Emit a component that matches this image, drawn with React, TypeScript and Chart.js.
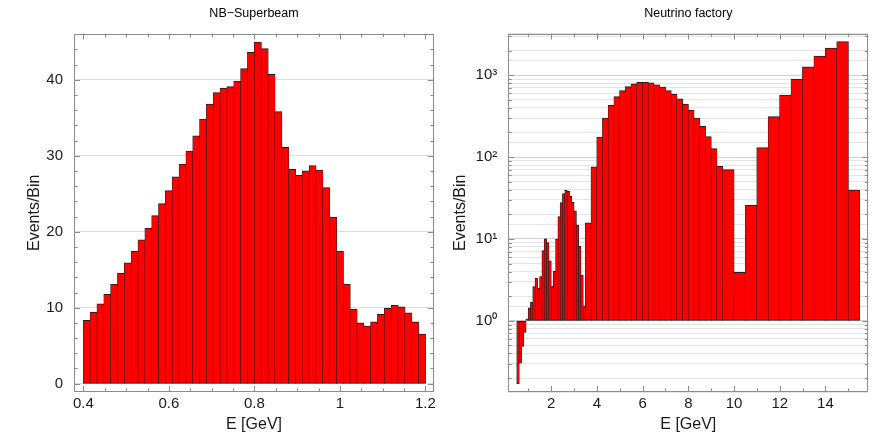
import React, { useEffect, useRef } from 'react';
import { Chart, registerables } from 'chart.js';

Chart.register(...registerables);

// ---------- NB-Superbeam (left panel) ----------
const nbBinLow = 0.4;
const nbBinWidth = 0.016;
const nbEvents = [
  8.3, 9.4, 10.5, 11.75, 13.1, 14.5, 15.9, 17.4, 18.9, 20.45,
  22.1, 23.7, 25.4, 27.2, 28.9, 30.6, 32.6, 34.8, 36.8, 38.3,
  38.9, 39.1, 39.8, 41.45, 43.6, 44.95, 44.1, 40.7, 35.8, 31.1,
  28.2, 27.4, 28.0, 28.7, 28.1, 25.8, 21.9, 17.4, 13.1, 9.8,
  8.0, 7.55, 8.1, 9.1, 9.9, 10.3, 10.1, 9.3, 8.1, 6.5,
];
const nbXTicks = [0.4, 0.6, 0.8, 1.0, 1.2];
const nbYTicks = [0, 10, 20, 30, 40];

// ---------- Neutrino factory (right panel) ----------
const nfFineLow = 0.5;
const nfFineWidth = 0.1;
const nfFineEvents = [
  0.171, 0.305, 0.49, 0.725, 1.05, 1.43, 1.69, 2.6, 3.32, 2.5,
  3.45, 7.2, 10.0, 9.0, 5.4, 2.65, 4.0, 9.9, 18.7, 27.8,
  35.8, 39.5, 38.0, 33.0, 28.0, 22.0, 14.7, 8.1, 3.57, 1.52,
];
const nfMidLow = 3.5;
const nfMidWidth = 0.25;
const nfMidEvents = [
  15.7, 76, 175, 299, 426, 545, 645, 726, 783, 815,
  821, 805, 762, 713, 648, 586, 513, 442, 374, 299,
  236, 177, 127, 77,
];
const nfCoarseLow = 9.5;
const nfCoarseWidth = 0.5;
const nfCoarseEvents = [70, 3.9, 25.6, 130, 312, 570, 893, 1262, 1706, 2137, 2570, 39.4];
const nfXTicks = [2, 4, 6, 8, 10, 12, 14];
const nfYTicks = [1, 10, 100, 1000];

const FONT = "'Liberation Sans', Arial, Helvetica, sans-serif";
Chart.defaults.font.family = FONT;
Chart.defaults.color = '#1a1a1a';

const BAR_FILL = '#ff0000';
const BAR_EDGE = '#1e1e1e';
const FRAME = '#8c8c8c';

const bins = (vals: number[], low: number, w: number) =>
  vals.map((y, i) => ({ x: low + (i + 0.5) * w, y }));

const supers: Record<string, string> = { '0': '⁰', '1': '¹', '2': '²', '3': '³', '4': '⁴', '-': '⁻' };
const pow10Label = (v: number) => {
  const l = Math.log10(v);
  if (Math.abs(l - Math.round(l)) > 1e-9) return '';
  return '10' + String(Math.round(l)).split('').map((c) => supers[c] || c).join('');
};
const isPow10 = (v: number) => v > 0 && Math.abs(Math.log10(v) - Math.round(Math.log10(v))) < 1e-9;

// frame + inward tick marks, drawn through the scales
const framePlugin = {
  id: 'frameTicks',
  afterDatasetsDraw(chart: any, _args: any, opts: any) {
    const { ctx, chartArea: a } = chart;
    const xs = chart.scales.x;
    const ys = chart.scales.y;
    const MAJ = 6;
    const MIN = 3.5;
    ctx.save();
    ctx.strokeStyle = FRAME;
    ctx.lineWidth = 1;
    ctx.beginPath();
    const addX = (v: number, len: number) => {
      const p = Math.round(xs.getPixelForValue(v)) + 0.5;
      ctx.moveTo(p, a.bottom);
      ctx.lineTo(p, a.bottom - len);
      ctx.moveTo(p, a.top);
      ctx.lineTo(p, a.top + len);
    };
    const addY = (v: number, len: number) => {
      const p = Math.round(ys.getPixelForValue(v)) + 0.5;
      ctx.moveTo(a.left, p);
      ctx.lineTo(a.left + len, p);
      ctx.moveTo(a.right, p);
      ctx.lineTo(a.right - len, p);
    };
    const linear = (scale: any, minor: number, major: number, add: (v: number, l: number) => void) => {
      const start = Math.ceil(scale.min / minor - 1e-9);
      for (let i = start; i * minor <= scale.max + 1e-9; i++) {
        const v = i * minor;
        const r = v / major;
        add(v, Math.abs(r - Math.round(r)) < 1e-6 ? MAJ : MIN);
      }
    };
    linear(xs, opts.xMinor, opts.xMajor, addX);
    if (ys.type === 'logarithmic') {
      const d0 = Math.floor(Math.log10(ys.min));
      const d1 = Math.ceil(Math.log10(ys.max));
      for (let d = d0; d <= d1; d++) {
        for (let m = 1; m <= 9; m++) {
          const v = m * Math.pow(10, d);
          if (v >= ys.min && v <= ys.max) addY(v, m === 1 ? MAJ : MIN);
        }
      }
    } else {
      linear(ys, opts.yMinor, opts.yMajor, addY);
    }
    ctx.stroke();
    ctx.strokeRect(Math.round(a.left) + 0.5, Math.round(a.top) + 0.5,
      Math.round(a.right) - Math.round(a.left) - 1, Math.round(a.bottom) - Math.round(a.top) - 1);
    ctx.restore();
  },
};

const barStyle = {
  backgroundColor: BAR_FILL,
  borderColor: BAR_EDGE,
  borderWidth: { top: 1, bottom: 1, left: 0.6, right: 0.6 },
  borderSkipped: false,
  categoryPercentage: 1,
  barPercentage: 1,
  grouped: false,
  inflateAmount: 0.5,
};
const fineBarStyle = { ...barStyle, borderWidth: { top: 1, bottom: 1, left: 0.75, right: 0.75 } };

const tickFont = { size: 15 };
const titleFont = { size: 16 };
const plotTitleFont = { size: 12.5, weight: 'normal' };

function makeLeft(): any {
  return {
    type: 'bar',
    data: {
      datasets: [{ ...barStyle, base: 0, data: bins(nbEvents, nbBinLow, nbBinWidth) }],
    },
    plugins: [framePlugin],
    options: {
      responsive: false,
      animation: false,
      events: [],
      layout: { padding: { left: 0, right: 12, top: 0, bottom: 0 } },
      plugins: {
        legend: { display: false },
        tooltip: { enabled: false },
        title: {
          display: true,
          fullSize: false,
          text: 'NB−Superbeam',
          color: '#000',
          font: plotTitleFont,
          padding: { top: 6, bottom: 12.5 },
        },
        frameTicks: { xMinor: 0.05, xMajor: 0.2, yMinor: 2, yMajor: 10 },
      },
      scales: {
        x: {
          type: 'linear',
          offset: false,
          min: 0.378,
          max: 1.22,
          grid: { display: false, drawTicks: false, offset: false },
          border: { display: false },
          afterBuildTicks: (s: any) => { s.ticks = nbXTicks.map((value) => ({ value })); },
          ticks: { font: tickFont, padding: 3, maxRotation: 0, autoSkip: false,
            callback: (v: number) => String(Math.round(v * 10) / 10) },
          title: { display: true, text: 'E [GeV]', font: titleFont, color: '#1a1a1a', padding: { top: 0, bottom: 10 } },
          afterFit: (s: any) => { s.height = 52; },
        },
        y: {
          type: 'linear',
          min: -1.1,
          max: 46.1,
          grid: { color: '#dcdcdc', drawTicks: false },
          border: { display: false },
          afterBuildTicks: (s: any) => { s.ticks = nbYTicks.map((value) => ({ value })); },
          ticks: { font: tickFont, padding: 11, autoSkip: false },
          title: { display: true, text: 'Events/Bin', font: titleFont, color: '#1a1a1a', padding: { top: 25, bottom: 0 } },
          afterFit: (s: any) => { s.width = 74; },
        },
      },
    },
  };
}

function makeRight(): any {
  const hiddenX = { type: 'linear', offset: false, min: 0.125, max: 15.875, display: false, position: 'bottom',
    grid: { offset: false }, ticks: { stepSize: 5, includeBounds: false } };
  return {
    type: 'bar',
    data: {
      datasets: [
        { ...fineBarStyle, base: 1, xAxisID: 'x', data: bins(nfFineEvents, nfFineLow, nfFineWidth) },
        { ...barStyle, base: 1, xAxisID: 'x2', data: bins(nfMidEvents, nfMidLow, nfMidWidth) },
        { ...barStyle, base: 1, xAxisID: 'x3', data: bins(nfCoarseEvents, nfCoarseLow, nfCoarseWidth) },
      ],
    },
    plugins: [framePlugin],
    options: {
      responsive: false,
      animation: false,
      events: [],
      layout: { padding: { left: 0, right: 24.7, top: 0, bottom: 0 } },
      plugins: {
        legend: { display: false },
        tooltip: { enabled: false },
        title: {
          display: true,
          fullSize: false,
          text: 'Neutrino factory',
          color: '#000',
          font: plotTitleFont,
          padding: { top: 6, bottom: 12.5 },
        },
        frameTicks: { xMinor: 1, xMajor: 2 },
      },
      scales: {
        x: {
          type: 'linear',
          offset: false,
          min: 0.125,
          max: 15.875,
          grid: { display: false, drawTicks: false, offset: false },
          border: { display: false },
          afterBuildTicks: (s: any) => { s.ticks = nfXTicks.map((value) => ({ value })); },
          ticks: { font: tickFont, padding: 3, maxRotation: 0, autoSkip: false },
          title: { display: true, text: 'E [GeV]', font: titleFont, color: '#1a1a1a', padding: { top: 0, bottom: 10 } },
          afterFit: (s: any) => { s.height = 52; },
        },
        x2: hiddenX,
        x3: { ...hiddenX },
        y: {
          type: 'logarithmic',
          min: 0.135,
          max: 3240,
          grid: {
            drawTicks: false,
            color: (c: any) => (c.tick && isPow10(c.tick.value) ? '#d2d2d2' : '#e4e4e4'),
          },
          border: { display: false },
          ticks: {
            font: tickFont,
            padding: 11,
            autoSkip: false,
            callback: (v: number) => (nfYTicks.some((t) => Math.abs(t - v) < 1e-9 * t) ? pow10Label(v) : ''),
          },
          title: { display: true, text: 'Events/Bin', font: titleFont, color: '#1a1a1a', padding: { top: 5, bottom: 0 } },
          afterFit: (s: any) => { s.width = 62.3; },
        },
      },
    },
  };
}

function ChartCanvas({ make, width, height }: { make: () => any; width: number; height: number }) {
  const ref = useRef<HTMLCanvasElement>(null);
  useEffect(() => {
    const chart = new Chart(ref.current as HTMLCanvasElement, make());
    return () => chart.destroy();
  }, []);
  return <canvas ref={ref} width={width} height={height} style={{ display: 'block', width, height }} />;
}

export default function App() {
  return (
    <div style={{ position: 'absolute', left: 0, top: 0, width: 893, height: 444, display: 'flex', background: '#fff' }}>
      <ChartCanvas make={makeLeft} width={446} height={444} />
      <ChartCanvas make={makeRight} width={447} height={444} />
    </div>
  );
}
